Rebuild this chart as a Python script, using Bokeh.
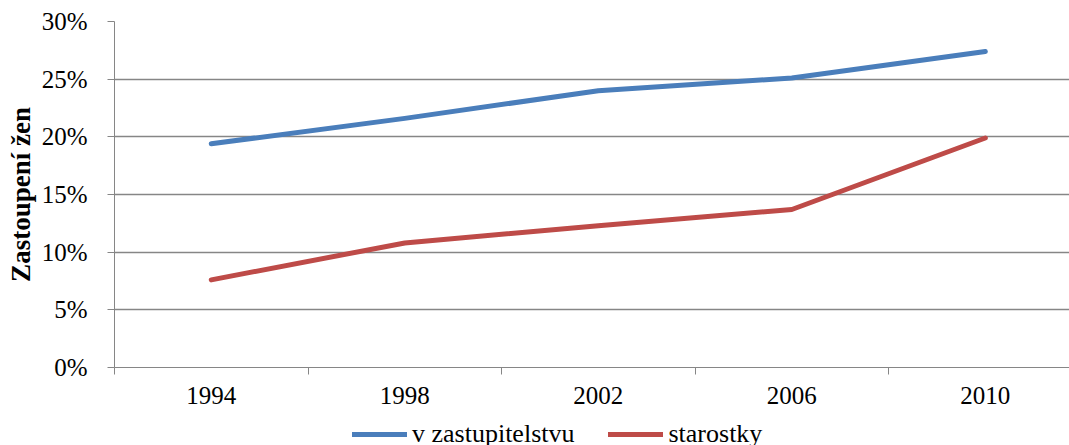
from bokeh.plotting import figure
from bokeh.layouts import column
from bokeh.models import Range1d, FixedTicker, NumeralTickFormatter, Legend, LegendItem
from bokeh.embed import file_html
from bokeh.resources import INLINE

# Share of women by municipal election year
years = ["1994", "1998", "2002", "2006", "2010"]
v_zastupitelstvu = [0.194, 0.216, 0.240, 0.251, 0.274]
starostky = [0.076, 0.108, 0.123, 0.137, 0.199]
series_names = ["v zastupitelstvu", "starostky"]
y_ticks = [0.0, 0.05, 0.10, 0.15, 0.20, 0.25, 0.30]

FONT = "Liberation Serif"
GRID = "#868686"
BLUE = "#4A7EBB"
RED = "#BE4B48"
COLORS = [BLUE, RED]

# categories sit in unit-wide slots; line points at slot centres
x = [i + 0.5 for i in range(len(years))]
slot_edges = list(range(len(years) + 1))

p = figure(width=1069, height=415, output_backend="svg", toolbar_location=None,
           x_range=Range1d(0, 4.935), y_range=Range1d(0, 0.30),
           min_border_left=114, min_border_right=0, min_border_top=21,
           min_border_bottom=48)
p.outline_line_color = None
p.background_fill_color = "white"
p.border_fill_color = "white"

for vals, col in zip([v_zastupitelstvu, starostky], COLORS):
    p.line(x, vals, line_color=col, line_width=5,
           line_cap="round", line_join="round")

# y axis
p.yaxis.ticker = FixedTicker(ticks=y_ticks)
p.yaxis.formatter = NumeralTickFormatter(format="0%")
p.yaxis.axis_line_color = GRID
p.yaxis.major_tick_line_color = GRID
p.yaxis.major_tick_in = 0
p.yaxis.major_tick_out = 7
p.yaxis.minor_tick_line_color = None
p.yaxis.major_label_standoff = 20
p.yaxis.major_label_text_font = FONT
p.yaxis.major_label_text_font_size = "25px"
p.yaxis.major_label_text_color = "black"
p.yaxis.axis_label = "Zastoupení žen"
p.yaxis.axis_label_text_font = FONT
p.yaxis.axis_label_text_font_style = "bold"
p.yaxis.axis_label_text_font_size = "27px"
p.yaxis.axis_label_text_color = "black"
p.yaxis.axis_label_standoff = 3

# x axis: labels at slot centres, tick marks at slot edges
p.xaxis.ticker = FixedTicker(ticks=x, minor_ticks=slot_edges)
p.xaxis.major_label_overrides = {xi: y for xi, y in zip(x, years)}
p.xaxis.axis_line_color = GRID
p.xaxis.major_tick_line_color = None
p.xaxis.major_tick_in = 0
p.xaxis.major_tick_out = 0
p.xaxis.minor_tick_line_color = GRID
p.xaxis.minor_tick_in = 0
p.xaxis.minor_tick_out = 7
p.xaxis.major_label_standoff = 12
p.xaxis.major_label_text_font = FONT
p.xaxis.major_label_text_font_size = "25px"
p.xaxis.major_label_text_color = "black"

p.xgrid.grid_line_color = None
p.ygrid.ticker = FixedTicker(ticks=y_ticks)
p.ygrid.grid_line_color = GRID
p.ygrid.grid_line_width = 1.3

# legend strip under the chart; its lines carry no visible points
leg = figure(width=1069, height=30, output_backend="svg", toolbar_location=None,
             x_range=Range1d(0, 1), y_range=Range1d(0, 1),
             min_border_left=0, min_border_right=0, min_border_top=0,
             min_border_bottom=0)
leg.axis.visible = False
leg.grid.visible = False
leg.outline_line_color = None
items = []
for name, col in zip(series_names, COLORS):
    r = leg.line([float("nan")], [float("nan")], line_color=col, line_width=5,
                 line_cap="round")
    items.append(LegendItem(label=name, renderers=[r]))

legend = Legend(items=items, orientation="horizontal", location=(238, -4))
legend.border_line_color = None
legend.background_fill_alpha = 0
legend.padding = 0
legend.margin = 0
legend.spacing = 34
legend.glyph_width = 55
legend.glyph_height = 20
legend.label_standoff = 5
legend.label_text_font = FONT
legend.label_text_font_size = "26px"
legend.label_text_color = "black"
leg.add_layout(legend, "center")

open("out.html", "w").write(file_html(column(p, leg, spacing=0), INLINE))
